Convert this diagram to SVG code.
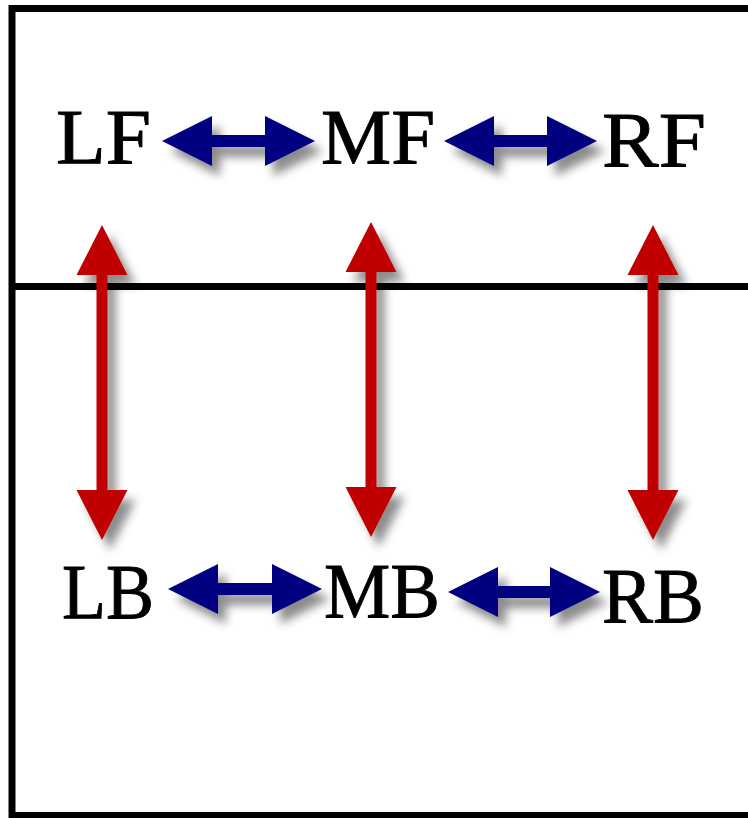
<svg xmlns="http://www.w3.org/2000/svg" width="748" height="818" viewBox="0 0 748 818">
  <style>
    .lbl { font-family: "Liberation Serif", "Times New Roman", serif; font-size: 79px; fill: #000; stroke: #000; stroke-width: 0.9; }
    .blue { fill: #000080; filter: url(#shadow); }
    .red { fill: #C00000; filter: url(#shadow); }
    .frame { fill: none; stroke: #000; stroke-width: 7; }
  </style>
  <defs>
    <filter id="shadow" x="-40%" y="-40%" width="180%" height="180%">
      <feDropShadow dx="8" dy="10" stdDeviation="5" flood-color="#000" flood-opacity="0.45"/>
    </filter>
  </defs>
  <rect width="748" height="818" fill="#fff"/>
  <g id="frame">
    <path class="frame" d="M 760 8.5 H 12 V 815.5 H 760"/>
    <path class="frame" d="M 9 286.5 H 760"/>
  </g>
  <g id="connectors">
    <polygon class="blue" points="162,141 212,116 212,135 265,135 265,116 315,141 265,166 265,147 212,147 212,166"/>
    <polygon class="blue" points="444,141 494,116 494,135 547,135 547,116 597,141 547,166 547,147 494,147 494,166"/>
    <polygon class="blue" points="168,589 218,564 218,583 272,583 272,564 322,589 272,614 272,595 218,595 218,614"/>
    <polygon class="blue" points="448,592 498,567 498,586 550,586 550,567 600,592 550,617 550,598 498,598 498,617"/>
    <polygon class="red" points="102,225 127.5,275 107.5,275 107.5,490 127.5,490 102,540 76.5,490 96.5,490 96.5,275 76.5,275"/>
    <polygon class="red" points="371,222 396.5,272 376.5,272 376.5,487 396.5,487 371,537 345.5,487 365.5,487 365.5,272 345.5,272"/>
    <polygon class="red" points="653,225 678.5,275 658.5,275 658.5,490 678.5,490 653,540 627.5,490 647.5,490 647.5,275 627.5,275"/>
  </g>
  <g id="LF"><text class="lbl" x="56" y="163" textLength="95" lengthAdjust="spacingAndGlyphs">LF</text></g>
  <g id="MF"><text class="lbl" x="321" y="163" textLength="114" lengthAdjust="spacingAndGlyphs">MF</text></g>
  <g id="RF"><text class="lbl" x="602" y="166" textLength="104" lengthAdjust="spacingAndGlyphs">RF</text></g>
  <g id="LB"><text class="lbl" x="62" y="618" textLength="92" lengthAdjust="spacingAndGlyphs">LB</text></g>
  <g id="MB"><text class="lbl" x="324" y="617" textLength="116" lengthAdjust="spacingAndGlyphs">MB</text></g>
  <g id="RB"><text class="lbl" x="602" y="622" textLength="102" lengthAdjust="spacingAndGlyphs">RB</text></g>
</svg>
